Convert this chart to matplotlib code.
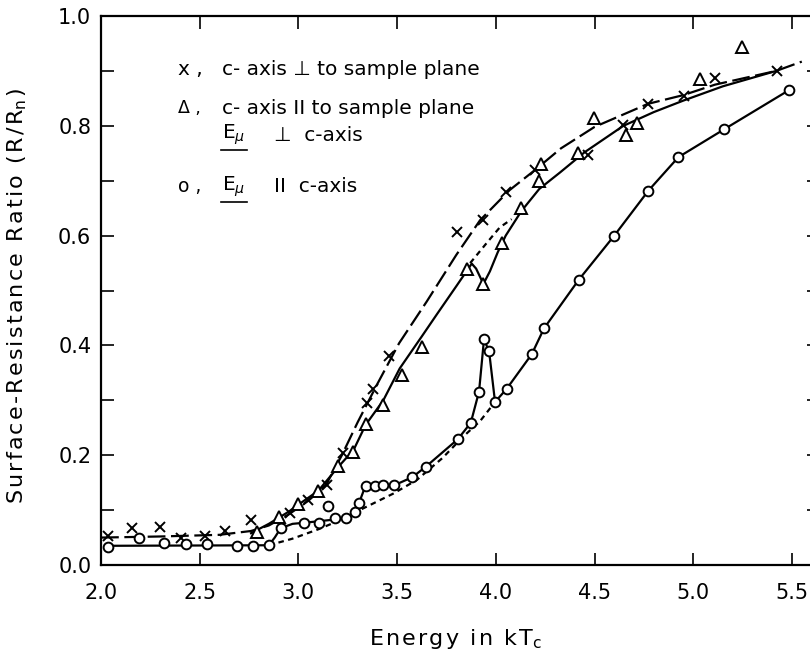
import matplotlib
matplotlib.use("Agg")
import matplotlib.pyplot as plt
from matplotlib.lines import Line2D

plt.rcParams["font.family"] = ["DejaVu Sans"]
plt.rcParams["mathtext.fontset"] = "dejavusans"

# -------------------------
# data
# -------------------------

# x : c-axis perpendicular to sample plane
cross_x = [2.034, 2.155, 2.30, 2.405, 2.527, 2.628, 2.758, 2.957, 3.049, 3.143,
           3.224, 3.346, 3.38, 3.46, 3.805, 3.935, 4.05, 4.20, 4.469, 4.646,
           4.773, 4.953, 5.11, 5.423]
cross_y = [0.052, 0.067, 0.070, 0.049, 0.053, 0.062, 0.082, 0.095, 0.118, 0.146,
           0.204, 0.295, 0.32, 0.38, 0.607, 0.628, 0.68, 0.72, 0.747, 0.801,
           0.840, 0.854, 0.888, 0.900]

# triangle : c-axis parallel to sample plane, E perpendicular to c-axis
tri_x = [2.789, 2.903, 2.999, 3.101, 3.202, 3.278, 3.342, 3.427, 3.523, 3.628,
         3.856, 3.937, 4.033, 4.13, 4.22, 4.23, 4.418, 4.497, 4.66, 4.714,
         5.034, 5.246]
tri_y = [0.061, 0.087, 0.111, 0.135, 0.180, 0.206, 0.257, 0.291, 0.346, 0.398,
         0.540, 0.512, 0.587, 0.65, 0.70, 0.73, 0.750, 0.814, 0.784, 0.806,
         0.885, 0.943]

# circle : E parallel to c-axis
circ_x = [2.034, 2.193, 2.321, 2.431, 2.535, 2.687, 2.768, 2.853, 2.910, 3.030,
          3.106, 3.148, 3.187, 3.241, 3.287, 3.307, 3.342, 3.388, 3.427, 3.486,
          3.577, 3.645, 3.807, 3.873, 3.915, 3.940, 3.966, 3.996, 4.055, 4.182,
          4.244, 4.421, 4.60, 4.773, 4.925, 5.158, 5.485]
circ_y = [0.033, 0.050, 0.041, 0.038, 0.038, 0.035, 0.035, 0.036, 0.067, 0.077,
          0.077, 0.107, 0.085, 0.085, 0.097, 0.113, 0.144, 0.144, 0.146, 0.146,
          0.160, 0.179, 0.229, 0.259, 0.316, 0.411, 0.389, 0.297, 0.321, 0.384,
          0.431, 0.520, 0.60, 0.682, 0.743, 0.794, 0.865]

# hand-drawn curves through the points
cross_curve_x = [2.0, 2.3, 2.6, 2.76, 2.85, 2.95, 3.05, 3.14, 3.22, 3.30, 3.40,
                 3.51, 3.65, 3.80, 3.92, 4.07, 4.20, 4.33, 4.50, 4.77, 4.95,
                 5.11, 5.42, 5.55]
cross_curve_y = [0.050, 0.052, 0.055, 0.062, 0.072, 0.092, 0.117, 0.146, 0.20,
                 0.26, 0.33, 0.404, 0.48, 0.565, 0.628, 0.683, 0.72, 0.759,
                 0.798, 0.84, 0.856, 0.875, 0.90, 0.917]

tri_curve_x = [2.76, 2.85, 2.95, 3.00, 3.10, 3.20, 3.28, 3.34, 3.43, 3.513,
               3.628, 3.70, 3.80, 3.878, 3.90, 3.92, 3.937, 3.97, 4.01, 4.05,
               4.13, 4.22, 4.325, 4.45, 4.646, 4.80, 4.95, 5.15, 5.42]
tri_curve_y = [0.058, 0.075, 0.097, 0.110, 0.135, 0.178, 0.21, 0.255, 0.30,
               0.358, 0.418, 0.456, 0.508, 0.549, 0.54, 0.525, 0.512, 0.535,
               0.57, 0.60, 0.645, 0.685, 0.715, 0.752, 0.80, 0.825, 0.846,
               0.872, 0.90]

tri_bridge_x = [3.87, 3.95, 4.02, 4.08]
tri_bridge_y = [0.55, 0.585, 0.615, 0.63]

circ_curve_x = [2.02, 2.85, 2.88, 2.91, 2.97, 3.03, 3.24, 3.287, 3.307, 3.33,
                3.342, 3.49, 3.577, 3.645, 3.807, 3.873, 3.915, 3.94, 3.966,
                3.996, 4.055, 4.182, 4.244, 4.421, 4.60, 4.773, 4.925, 5.158,
                5.485]
circ_curve_y = [0.035, 0.036, 0.05, 0.067, 0.075, 0.077, 0.085, 0.097, 0.113,
                0.135, 0.144, 0.146, 0.160, 0.179, 0.229, 0.259, 0.316, 0.411,
                0.389, 0.297, 0.321, 0.384, 0.431, 0.520, 0.60, 0.682, 0.743,
                0.794, 0.865]

circ_base_x = [2.85, 2.97, 3.10, 3.20, 3.31, 3.48, 3.60, 3.73, 3.835, 3.92, 3.996]
circ_base_y = [0.036, 0.048, 0.065, 0.08, 0.10, 0.13, 0.155, 0.195, 0.234, 0.262, 0.297]

x_ticks = [2.0, 2.5, 3.0, 3.5, 4.0, 4.5, 5.0, 5.5]
y_ticks = [0.0, 0.1, 0.2, 0.3, 0.4, 0.5, 0.6, 0.7, 0.8, 0.9, 1.0]
y_labels = ["0.0", "", "0.2", "", "0.4", "", "0.6", "", "0.8", "", "1.0"]


def spaced(s):
    # the original lettering is a little wider set than DejaVu
    return "\u200a".join(s)


# -------------------------
# figure
# -------------------------

fig = plt.figure(figsize=(8.1, 6.52), dpi=100)
ax = fig.add_axes([0.1247, 0.1334, 0.8864, 0.842])

lw = 1.6

ax.plot(cross_curve_x, cross_curve_y, color="black", linewidth=lw,
        linestyle=(0, (8, 2.5)), zorder=2)
ax.plot(tri_curve_x, tri_curve_y, color="black", linewidth=lw, zorder=2)
ax.plot(tri_bridge_x, tri_bridge_y, color="black", linewidth=lw,
        linestyle=(0, (2.5, 2)), zorder=2)
ax.plot(circ_curve_x, circ_curve_y, color="black", linewidth=lw, zorder=2)
ax.plot(circ_base_x, circ_base_y, color="black", linewidth=lw,
        linestyle=(0, (2.5, 2)), zorder=2)

ax.plot(cross_x, cross_y, linestyle="none", marker="x", markersize=7,
        markeredgewidth=1.4, color="black", zorder=3)
ax.plot(tri_x, tri_y, linestyle="none", marker="^", markersize=8.5,
        markerfacecolor="white", markeredgecolor="black",
        markeredgewidth=1.4, zorder=3)
ax.plot(circ_x, circ_y, linestyle="none", marker="o", markersize=7,
        markerfacecolor="white", markeredgecolor="black",
        markeredgewidth=1.4, zorder=4)

ax.set_xlim(2.0, 5.637)
ax.set_ylim(0.0, 1.0)
ax.set_xticks(x_ticks)
ax.set_xticklabels([f"{v:.1f}" for v in x_ticks])
ax.set_yticks(y_ticks)
ax.set_yticklabels(y_labels)

ax.tick_params(axis="both", direction="in", length=9, width=1.2,
               top=True, right=True, labelsize=15)
ax.tick_params(axis="x", pad=13)
ax.tick_params(axis="y", pad=7)
for sp in ax.spines.values():
    sp.set_linewidth(1.6)

ax.set_xlabel(spaced("Energy in kT") + "$_\\mathregular{c}$", fontsize=16)
ax.set_ylabel(spaced("Surface-Resistance Ratio (R/R") + "$_\\mathregular{n}$" + "\u200a)",
              fontsize=16)
ax.xaxis.set_label_coords(0.494, -0.112)
ax.yaxis.set_label_coords(-0.1, 0.49)

# legend written as text, like the original
fs = 14.5
sym_x = 2.39
txt_x = 2.615
ax.text(sym_x, 0.902, "x ,", fontsize=fs, va="center")
ax.text(txt_x, 0.902, "c- axis \u22a5 to sample plane", fontsize=fs, va="center")
ax.text(sym_x, 0.832, "\u0394 ,", fontsize=fs - 2, va="center")
ax.text(txt_x, 0.832, "c- axis II to sample plane", fontsize=fs, va="center")
e1 = ax.text(txt_x, 0.783, "E$_{\\mu}$", fontsize=fs, va="center")
ax.text(txt_x + 0.26, 0.783, "\u22a5  c-axis", fontsize=fs, va="center")
ax.text(sym_x, 0.689, "o ,", fontsize=fs - 1, va="center")
e2 = ax.text(txt_x, 0.689, "E$_{\\mu}$", fontsize=fs, va="center")
ax.text(txt_x + 0.26, 0.689, "II  c-axis", fontsize=fs, va="center")

# underline the E_mu symbols
fig.canvas.draw()
for t in (e1, e2):
    bb = t.get_window_extent()
    y0 = bb.y0 - 3
    fig.add_artist(Line2D([bb.x0 - 1, bb.x1 + 1], [y0, y0], color="black",
                          linewidth=1.2, transform=None))

fig.savefig("out.png", dpi=100)
